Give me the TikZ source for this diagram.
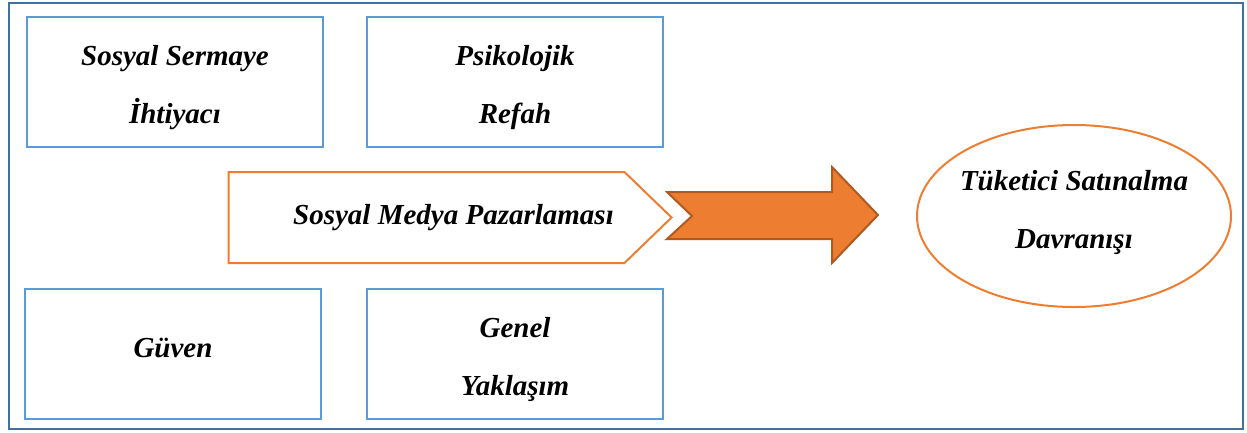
\documentclass[tikz,border=0pt]{standalone}
\usepackage{fontspec}
\setmainfont{Liberation Serif}
\usetikzlibrary{shapes.geometric,shapes.symbols}
\definecolor{boxblue}{HTML}{5B9BD5}
\definecolor{accorange}{HTML}{ED7D31}
\definecolor{darkorange}{HTML}{AE5A21}
\definecolor{framblue}{HTML}{41719C}
\begin{document}
\begin{tikzpicture}[x=1pt,y=-1pt,
        every node/.style={font=\fontsize{29}{58}\selectfont\bfseries\itshape, align=center},
        factor/.style={rectangle, draw=boxblue, line width=2.5pt, minimum width=296pt, minimum height=130pt,
            text height=88pt, text depth=6pt},
        smm/.style={signal, signal to=east, signal pointer angle=88, draw=accorange, line width=2pt,
            minimum width=443pt, minimum height=91pt},
        result/.style={ellipse, draw=accorange, line width=2pt, inner xsep=-4pt, inner ysep=0pt,
            minimum width=314pt, minimum height=182pt, text height=70pt, text depth=6pt}]
    \useasboundingbox (0,0) rectangle (1247,432);
    \draw[framblue, line width=2.5pt] (9,3) rectangle (1243,429);

    \node[factor] (sermaye) at (175,82) {Sosyal Sermaye\\İhtiyacı};
    \node[factor] (refah) at (515,82) {Psikolojik\\Refah};
    \node[factor, text height=20pt, text depth=14pt] (guven) at (173,354) {Güven};
    \node[factor] (genel) at (515,354) {Genel\\Yaklaşım};

    \node[smm] (smp) at (426.5,217.5) {\hspace*{54pt}Sosyal Medya Pazarlaması};
    \node[result] (davranis) at (1074,216) {Tüketici Satınalma\\Davranışı};

    \draw[darkorange, fill=accorange, line width=2pt, line join=miter]
        (667,192) -- (832,192) -- (832,167) -- (878,215) -- (832,263) -- (832,239)
        -- (667,239) -- (692,216) -- cycle;
\end{tikzpicture}
\end{document}
